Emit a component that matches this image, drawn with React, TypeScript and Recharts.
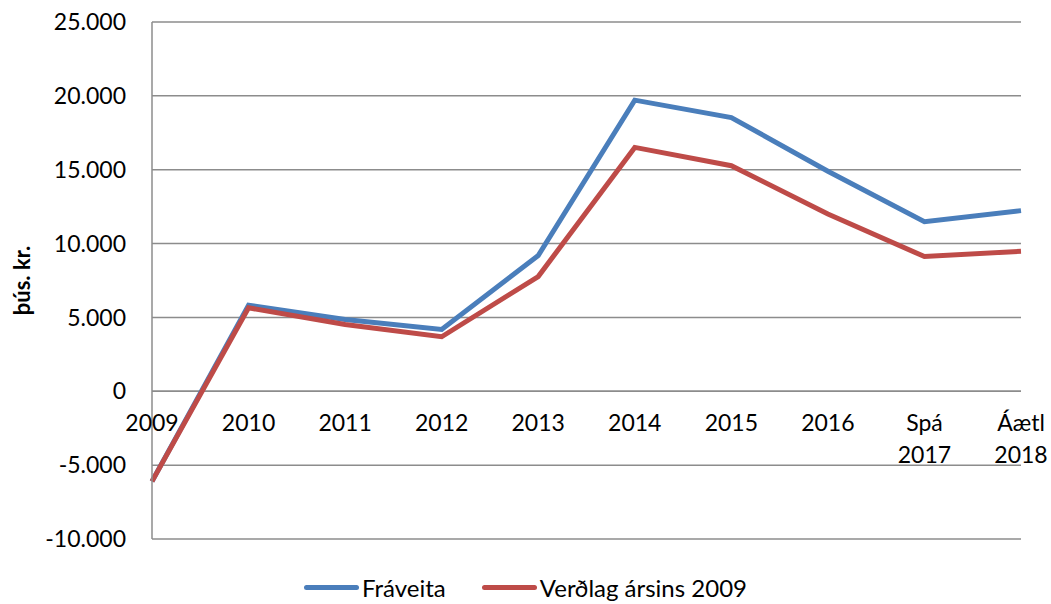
import React from "react";
import {
  LineChart,
  Line,
  XAxis,
  YAxis,
  CartesianGrid,
  Legend,
  ReferenceLine,
} from "recharts";

const years = [
  "2009",
  "2010",
  "2011",
  "2012",
  "2013",
  "2014",
  "2015",
  "2016",
  "Spá 2017",
  "Áætl 2018",
];
const fraveita = [-6100, 5830, 4860, 4190, 9190, 19710, 18530, 14900, 11480, 12230];
const verdlag = [-6100, 5650, 4520, 3690, 7770, 16510, 15270, 12000, 9120, 9480];
const yTicks = [-10000, -5000, 0, 5000, 10000, 15000, 20000, 25000];

const data = years.map((year, i) => ({
  year,
  fraveita: fraveita[i],
  verdlag: verdlag[i],
}));

const W = 1051;
const H = 604;
const TOP = 22;
const BOTTOM = 65;
const Y_MIN = -10000;
const Y_MAX = 25000;
const FONT = "Lato, 'Open Sans', sans-serif";
const BLUE = "#4a7ebb";
const RED = "#be4b48";
const GRID = "#8c8c8c";

// x-ásinn liggur við 0, ekki neðst
const plotH = H - TOP - BOTTOM;
const zeroY = TOP + ((Y_MAX - 0) / (Y_MAX - Y_MIN)) * plotH;

const fmt = (v: number) =>
  v === 0 ? "0" : (v < 0 ? "-" : "") + Math.abs(v).toLocaleString("de-DE");

function YearTick(props: any) {
  const { x, payload } = props;
  const lines = String(payload.value).split(" ");
  return (
    <text
      x={x}
      y={zeroY + 40}
      textAnchor="middle"
      fill="#000"
      fontSize={23}
      fontFamily={FONT}
    >
      {lines.map((l, i) => (
        <tspan key={i} x={x} dy={i === 0 ? 0 : 32}>
          {l}
        </tspan>
      ))}
    </text>
  );
}

function LegendContent() {
  const items = [
    { label: "Fráveita", color: BLUE },
    { label: "Verðlag ársins 2009", color: RED },
  ];
  return (
    <div
      style={{
        display: "flex",
        justifyContent: "center",
        fontFamily: FONT,
        fontSize: 24,
        color: "#000",
      }}
    >
      {items.map((it, i) => (
        <div
          key={it.label}
          style={{ display: "flex", alignItems: "center", marginLeft: i === 0 ? 0 : 36 }}
        >
          <span
            style={{
              display: "inline-block",
              width: 55,
              height: 5,
              borderRadius: 3,
              background: it.color,
              marginRight: 3,
            }}
          />
          <span>{it.label}</span>
        </div>
      ))}
    </div>
  );
}

export default function App() {
  return (
    <div style={{ position: "absolute", left: 0, top: 0, width: W, height: H, background: "#fff" }}>
      <LineChart
        width={W}
        height={H}
        data={data}
        margin={{ top: TOP, right: 30, left: 0, bottom: BOTTOM - 30 }}
      >
        <CartesianGrid vertical={false} stroke={GRID} strokeWidth={1.5} />
        <XAxis
          dataKey="year"
          scale="point"
          padding={{ left: 0, right: 0 }}
          interval={0}
          height={30}
          axisLine={false}
          tickLine={false}
          tick={<YearTick />}
        />
        <YAxis
          domain={[Y_MIN, Y_MAX]}
          ticks={yTicks}
          width={152}
          tickFormatter={fmt}
          tickLine={false}
          axisLine={{ stroke: GRID, strokeWidth: 1.5 }}
          tickMargin={20}
          tick={{ fontSize: 23, fill: "#000", fontFamily: FONT }}
          label={{
            value: "þús. kr.",
            angle: -90,
            position: "insideLeft",
            offset: 22,
            style: { fontSize: 22, fontWeight: 700, fill: "#000", fontFamily: FONT, textAnchor: "middle" },
          }}
        />
        <ReferenceLine y={0} stroke={GRID} strokeWidth={1.5} />
        <Line
          type="linear"
          dataKey="fraveita"
          stroke={BLUE}
          strokeWidth={5}
          dot={false}
          activeDot={false}
          isAnimationActive={false}
        />
        <Line
          type="linear"
          dataKey="verdlag"
          stroke={RED}
          strokeWidth={5}
          dot={false}
          activeDot={false}
          isAnimationActive={false}
        />
        <Legend
          layout="horizontal"
          verticalAlign="middle"
          wrapperStyle={{ top: 573, left: 0, width: W }}
          content={<LegendContent />}
        />
      </LineChart>
    </div>
  );
}
